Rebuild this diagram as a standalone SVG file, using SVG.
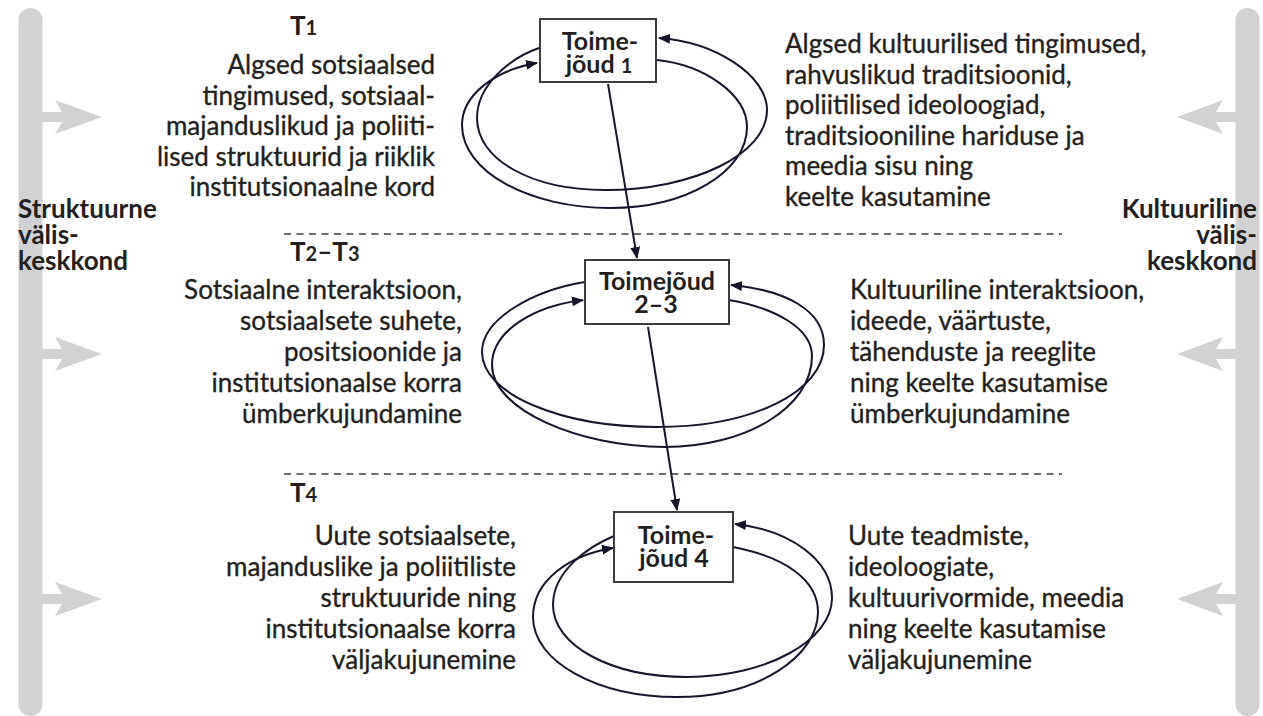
<svg xmlns="http://www.w3.org/2000/svg" width="1263" height="716" viewBox="0 0 1263 716">
<defs>
<style>
.bar{fill:#d1d2d4}
.garrow{fill:#d1d2d4}
.txt{font-family:Lato,"Liberation Sans",sans-serif;font-size:26px;fill:#231f20;stroke:#231f20;stroke-width:0.35}
.bold{font-family:Lato,"Liberation Sans",sans-serif;font-size:26px;font-weight:bold;fill:#231f20}
.btxt{font-family:Lato,"Liberation Sans",sans-serif;font-size:25px;font-weight:bold;fill:#231f20}
.end{text-anchor:end}
.mid{text-anchor:middle}
.box{fill:#ffffff;stroke:#3c3c3c;stroke-width:2}
.loop{fill:none;stroke:#15152b;stroke-width:2}
.dash{fill:none;stroke:#3c3c3c;stroke-width:1.6;stroke-dasharray:7 5.5}
.sub{font-size:20px}
</style>
<marker id="ah" viewBox="0 0 12 10" refX="11" refY="5" markerWidth="12" markerHeight="10" orient="auto" markerUnits="userSpaceOnUse">
<path d="M0,0 L12,5 L0,10 z" fill="#15152b"/>
</marker>
</defs>
<rect width="1263" height="716" fill="#ffffff"/>

<g id="left-environment">
<rect class="bar" x="18.5" y="8" width="24" height="708" rx="12"/>
<polygon class="garrow" points="42,112 62,112 55,100 102,117 55,134 62,122 42,122"/>
<polygon class="garrow" points="42,349 62,349 55,337 102,354 55,371 62,359 42,359"/>
<polygon class="garrow" points="42,594 62,594 55,582 102,599 55,616 62,604 42,604"/>
<text class="bold" x="18" y="218">Struktuurne</text>
<text class="bold" x="18" y="244">välis-</text>
<text class="bold" x="18" y="270">keskkond</text>
</g>

<g id="right-environment">
<rect class="bar" x="1235.5" y="8" width="24" height="708" rx="12"/>
<polygon class="garrow" points="1236,112 1216,112 1223,100 1177,117 1223,134 1216,122 1236,122"/>
<polygon class="garrow" points="1236,349 1216,349 1223,337 1177,354 1223,371 1216,359 1236,359"/>
<polygon class="garrow" points="1236,594 1216,594 1223,582 1177,599 1223,616 1216,604 1236,604"/>
<text class="bold end" x="1257" y="218">Kultuuriline</text>
<text class="bold end" x="1257" y="244">välis-</text>
<text class="bold end" x="1257" y="270">keskkond</text>
</g>

<g id="separators">
<line class="dash" x1="284" y1="234" x2="1062" y2="234"/>
<line class="dash" x1="284" y1="474" x2="1062" y2="474"/>
</g>

<g id="connectors">
<path class="loop" marker-end="url(#ah)" d="M539,48 C510,58 477,85 477,118 C477,160 532,190 605,190 C694,190 767,154 767,110 C767,75 715,42 659,38"/>
<path class="loop" marker-end="url(#ah)" d="M657,60 C705,65 747,95 747,127 C747,172 686,208 610,208 C530,208 462,172 462,125 C462,95 495,70 537,63"/>
<path class="loop" marker-end="url(#ah)" d="M585,282 C535,290 482,318 482,352 C482,394 560,427 657,427 C752,427 824,392 824,345 C824,310 785,290 731,285"/>
<path class="loop" marker-end="url(#ah)" d="M729,300 C775,308 812,328 812,356 C812,408 745,447 665,447 C580,447 492,410 492,365 C492,330 535,306 583,300"/>
<path class="loop" marker-end="url(#ah)" d="M614,536 C590,546 553,570 553,605 C553,645 610,677 687,677 C767,677 832,640 832,598 C832,560 790,530 735,524"/>
<path class="loop" marker-end="url(#ah)" d="M733,547 C785,557 818,580 818,612 C818,655 760,697 677,697 C598,697 533,662 533,617 C533,580 570,555 613,548"/>
<line class="loop" marker-end="url(#ah)" x1="608" y1="84" x2="637" y2="258"/>
<line class="loop" marker-end="url(#ah)" x1="648" y1="327" x2="677" y2="510"/>
</g>

<g id="node-T1">
<rect class="box" x="540" y="19" width="116" height="63"/>
<text class="btxt mid" x="600" y="50">Toime-</text>
<text class="btxt mid" x="599" y="73">jõud <tspan class="sub">1</tspan></text>
</g>

<g id="node-T23">
<rect class="box" x="585" y="260" width="144" height="64"/>
<text class="btxt mid" x="657" y="290">Toimejõud</text>
<text class="btxt mid" x="656" y="313">2–3</text>
</g>

<g id="node-T4">
<rect class="box" x="614" y="512" width="119" height="70"/>
<text class="btxt mid" x="676" y="544">Toime-</text>
<text class="btxt mid" x="674" y="567">jõud 4</text>
</g>

<g id="label-T1">
<text class="bold" x="290" y="35">T<tspan class="sub">1</tspan></text>
</g>
<g id="label-T23">
<text class="bold" x="290" y="261">T<tspan class="sub">2</tspan>–T<tspan class="sub">3</tspan></text>
</g>
<g id="label-T4">
<text class="bold" x="290" y="502">T<tspan class="sub">4</tspan></text>
</g>

<g id="text-T1-structural">
<text class="txt end" x="435" y="74">Algsed sotsiaalsed</text>
<text class="txt end" x="435" y="104.5">tingimused, sotsiaal-</text>
<text class="txt end" x="435" y="135">majanduslikud ja poliiti-</text>
<text class="txt end" x="435" y="165.5">lised struktuurid ja riiklik</text>
<text class="txt end" x="435" y="196">institutsionaalne kord</text>
</g>

<g id="text-T1-cultural">
<text class="txt" x="785" y="53">Algsed kultuurilised tingimused,</text>
<text class="txt" x="785" y="83.5">rahvuslikud traditsioonid,</text>
<text class="txt" x="785" y="114">poliitilised ideoloogiad,</text>
<text class="txt" x="785" y="144.5">traditsiooniline hariduse ja</text>
<text class="txt" x="785" y="175">meedia sisu ning</text>
<text class="txt" x="785" y="205.5">keelte kasutamine</text>
</g>

<g id="text-T23-structural">
<text class="txt end" x="462" y="299">Sotsiaalne interaktsioon,</text>
<text class="txt end" x="462" y="330">sotsiaalsete suhete,</text>
<text class="txt end" x="462" y="361">positsioonide ja</text>
<text class="txt end" x="462" y="392">institutsionaalse korra</text>
<text class="txt end" x="462" y="423">ümberkujundamine</text>
</g>

<g id="text-T23-cultural">
<text class="txt" x="850" y="299">Kultuuriline interaktsioon,</text>
<text class="txt" x="850" y="330">ideede, väärtuste,</text>
<text class="txt" x="850" y="361">tähenduste ja reeglite</text>
<text class="txt" x="850" y="392">ning keelte kasutamise</text>
<text class="txt" x="850" y="423">ümberkujundamine</text>
</g>

<g id="text-T4-structural">
<text class="txt end" x="516" y="545">Uute sotsiaalsete,</text>
<text class="txt end" x="516" y="576">majanduslike ja poliitiliste</text>
<text class="txt end" x="516" y="607">struktuuride ning</text>
<text class="txt end" x="516" y="638">institutsionaalse korra</text>
<text class="txt end" x="516" y="669">väljakujunemine</text>
</g>

<g id="text-T4-cultural">
<text class="txt" x="848" y="545">Uute teadmiste,</text>
<text class="txt" x="848" y="576">ideoloogiate,</text>
<text class="txt" x="848" y="607">kultuurivormide, meedia</text>
<text class="txt" x="848" y="638">ning keelte kasutamise</text>
<text class="txt" x="848" y="669">väljakujunemine</text>
</g>
</svg>
